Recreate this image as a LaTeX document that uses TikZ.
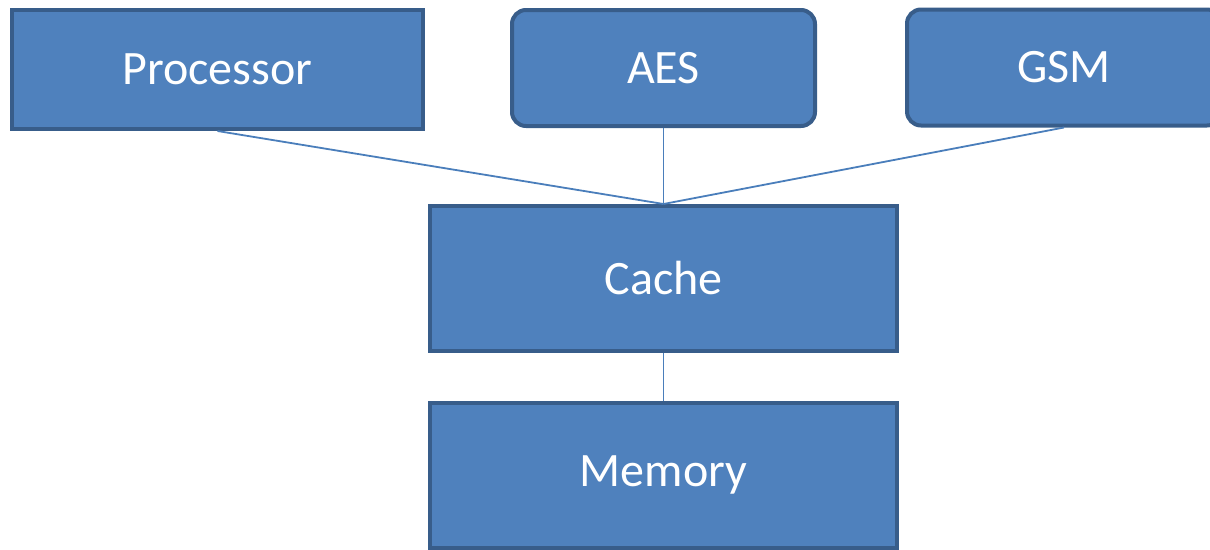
\documentclass[tikz,border=0pt]{standalone}
\usepackage{fontspec}
\setmainfont{Carlito}
\usepackage{tikz}
\usetikzlibrary{positioning}
\definecolor{boxFill}{HTML}{4F81BD}
\definecolor{boxLine}{HTML}{385D8A}
\definecolor{wireBlue}{HTML}{4A7EBB}

\begin{document}
\begin{tikzpicture}[x=1pt, y=-1pt,
    unit/.style={draw=boxLine, line width=4pt, fill=boxFill, text=white,
        font=\fontsize{48}{57}\selectfont, inner sep=0pt},
    wire/.style={wireBlue, line width=1.8pt}]
    \useasboundingbox (0,0) rectangle (1210,549);

    % top row
    \node[unit, minimum width=411pt, minimum height=119pt] (proc) at (217.5,69.5) {Processor};
    \node[unit, rounded corners=14pt, minimum width=303pt, minimum height=116pt] (aes) at (663.5,68) {AES};
    \node[unit, rounded corners=14pt, minimum width=314pt, minimum height=116pt] (gsm) at (1064,67.5) {GSM};

    % cache and memory
    \node[unit, minimum width=467pt, minimum height=145pt] (cache) at (663.5,278.5) {Cache};
    \node[unit, minimum width=467pt, minimum height=145pt] (mem) at (663.5,475) {Memory};

    \draw[wire] (proc.south) -- (cache.north);
    \draw[wire] (aes.south) -- (cache.north);
    \draw[wire] (gsm.south) -- (cache.north);
    \draw[wire] (cache.south) -- (mem.north);
\end{tikzpicture}
\end{document}
